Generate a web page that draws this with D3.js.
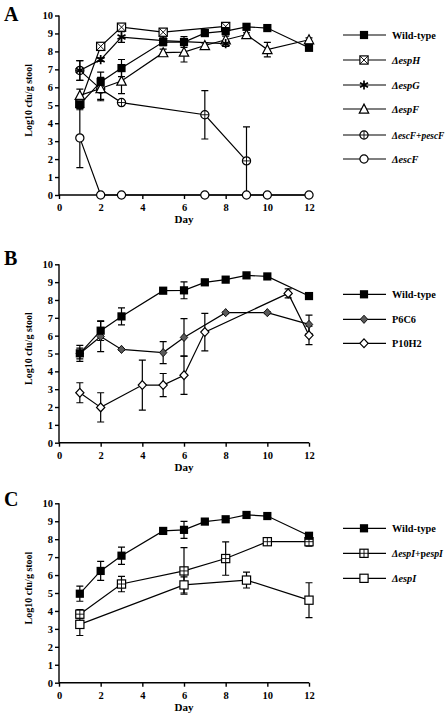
<!DOCTYPE html>
<html><head><meta charset="utf-8">
<script src="https://cdn.jsdelivr.net/npm/d3@7"></script>
<style>body{margin:0;background:#fff}svg{display:block}</style>
</head><body>
<script>
// ---------- DATA ----------
const xTicks = [0,2,4,6,8,10,12];
const yTicks = [0,1,2,3,4,5,6,7,8,9,10];

// Panel A
const aWtDays = [1,2,3,5,6,7,8,9,10,12];
const aWtVals = [5.05,6.3,7.07,8.52,8.52,9.02,9.13,9.37,9.3,8.2];
const aWtErr  = [0.3,0.55,0.48,0.2,0.3,0.1,0.15,0.1,0.1,0.12];
const aEspHDays = [1,2,3,5,8];
const aEspHVals = [5.1,8.28,9.35,9.07,9.39];
const aEspHErr  = [0,0.1,0.12,0.2,0.12];
const aEspGDays = [1,2,3,5,8];
const aEspGVals = [6.94,7.54,8.8,8.6,8.43];
const aEspGErr  = [0.55,0.1,0.3,0.15,0.15];
const aEspFDays = [1,2,3,5,6,7,8,9,10,12];
const aEspFVals = [5.55,5.93,6.35,7.93,7.96,8.33,8.65,8.94,8.1,8.65];
const aEspFErr  = [0.35,0.6,0.7,0.2,0.55,0.15,0.2,0.1,0.4,0.1];
const aEscFpDays = [1,2,3,7,9];
const aEscFpVals = [6.94,5.9,5.15,4.47,1.9];
const aEscFpErr  = [0.55,0.65,0.1,1.35,1.9];
const aEscFDays = [1,2,3,7,9,10,12];
const aEscFVals = [3.18,0,0,0,0,0,0];
const aEscFErr  = [1.65,0,0,0,0,0,0];

// Panel B
const bWtDays = [1,2,3,5,6,7,8,9,10,12];
const bWtVals = [5.01,6.28,7.08,8.52,8.54,8.99,9.14,9.38,9.32,8.22];
const bWtErr  = [0.45,0.55,0.48,0.05,0.47,0.08,0.08,0.05,0.05,0.08];
const bP6Days = [1,2,3,5,6,8,10,12];
const bP6Vals = [5.0,5.95,5.23,5.05,5.9,7.29,7.29,6.63];
const bP6Err  = [0.3,0.85,0.05,0.62,1.05,0.05,0.05,0.52];
const bP10Days = [1,2,4,5,6,7,11,12];
const bP10Vals = [2.8,1.98,3.23,3.23,3.78,6.2,8.37,6.02];
const bP10Err  = [0.56,0.82,1.4,0.65,1.07,1.05,0.25,0.52];

// Panel C
const cWtDays = [1,2,3,5,6,7,8,9,10,12];
const cWtVals = [4.96,6.23,7.08,8.46,8.52,8.98,9.11,9.35,9.29,8.19];
const cWtErr  = [0.42,0.53,0.48,0.05,0.47,0.1,0.08,0.05,0.05,0.1];
const cEspIpDays = [1,3,6,8,10,12];
const cEspIpVals = [3.82,5.5,6.23,6.92,7.86,7.86];
const cEspIpErr  = [0.25,0.43,1.3,0.93,0.05,0.25];
const cEspIDays = [1,6,9,12];
const cEspIVals = [3.25,5.45,5.72,4.6];
const cEspIErr  = [0.62,0.45,0.44,0.97];

// ---------- DRAW ----------
const W = 445, H = 717;
const svg = d3.select("body").append("svg").attr("width", W).attr("height", H);
const FONT = "'Liberation Serif','Times New Roman',serif";

function series(name, days, vals, errs, marker) {
  return {name, marker, pts: days.map((d,i)=>({d, v: vals[i], e: errs[i]}))};
}

function drawMarker(g, type, cx, cy) {
  const s = 4.1;
  const m = g.append("g").attr("transform", `translate(${cx},${cy})`);
  const st = (sel)=>sel.attr("stroke","#000").attr("stroke-width",1.2);
  switch (type) {
    case "fsquare":
      m.append("rect").attr("x",-s).attr("y",-s).attr("width",2*s).attr("height",2*s).attr("fill","#000"); break;
    case "osquare":
      st(m.append("rect").attr("x",-s).attr("y",-s).attr("width",2*s).attr("height",2*s).attr("fill","#fff")); break;
    case "xsquare":
      st(m.append("rect").attr("x",-s).attr("y",-s).attr("width",2*s).attr("height",2*s).attr("fill","#fff"));
      st(m.append("path").attr("d",`M${-s},${-s}L${s},${s}M${s},${-s}L${-s},${s}`)).attr("stroke-width",0.9); break;
    case "psquare":
      st(m.append("rect").attr("x",-s).attr("y",-s).attr("width",2*s).attr("height",2*s).attr("fill","#fff"));
      st(m.append("path").attr("d",`M0,${-s}L0,${s}M${-s},0L${s},0`)).attr("stroke-width",0.9); break;
    case "star": {
      const r = 4.6;
      st(m.append("path").attr("d",`M0,${-r}L0,${r}M${-r*0.87},${-r*0.5}L${r*0.87},${r*0.5}M${-r*0.87},${r*0.5}L${r*0.87},${-r*0.5}`)).attr("stroke-width",1.7);
      break; }
    case "otri":
      st(m.append("path").attr("d",`M0,${-s-0.8}L${s+0.6},${s}L${-s-0.6},${s}Z`).attr("fill","#fff")); break;
    case "ocircle":
      st(m.append("circle").attr("r",s).attr("fill","#fff")); break;
    case "pcircle":
      st(m.append("circle").attr("r",s).attr("fill","#fff"));
      st(m.append("path").attr("d",`M0,${-s}L0,${s}M${-s},0L${s},0`)).attr("stroke-width",0.9); break;
    case "gdiamond":
      m.append("path").attr("d",`M0,${-s}L${s-0.4},0L0,${s}L${-s+0.4},0Z`).attr("fill","#5a5a5a").attr("stroke","#111").attr("stroke-width",1); break;
    case "odiamond":
      st(m.append("path").attr("d",`M0,${-s-0.3}L${s},0L0,${s+0.3}L${-s},0Z`).attr("fill","#fff")); break;
  }
}

function panel(cfg) {
  const x = d3.scaleLinear().domain([0,12]).range([59,309]);
  const y = d3.scaleLinear().domain([0,10]).range([cfg.y0, cfg.y10]);
  const g = svg.append("g");

  const yAx = g.append("g").attr("transform","translate(59,0)")
    .call(d3.axisLeft(y).tickValues(yTicks).tickSize(4).tickPadding(2).tickFormat(d3.format("d")));
  const xAx = g.append("g").attr("transform",`translate(0,${cfg.y0})`)
    .call(d3.axisBottom(x).tickValues(xTicks).tickSize(4).tickPadding(5).tickFormat(d3.format("d")));
  [yAx,xAx].forEach(a=>{
    a.select(".domain").attr("stroke","#000").attr("stroke-width",1.4);
    a.selectAll(".tick line").attr("stroke","#000").attr("stroke-width",1.4);
    a.selectAll("text").attr("font-family",FONT).attr("font-weight","bold").attr("font-size",10.5).attr("fill","#000");
  });
  yAx.select(".domain").attr("d",`M0,${cfg.y0}V${cfg.y10}`);
  xAx.select(".domain").attr("d",`M59,0H309`);

  g.append("text").attr("x",184).attr("y",cfg.y0+28).attr("text-anchor","middle")
    .attr("font-family",FONT).attr("font-weight","bold").attr("font-size",11).text("Day");
  g.append("text").attr("transform",`translate(32,${(cfg.y0+cfg.y10)/2-5}) rotate(-90)`)
    .attr("text-anchor","middle").attr("font-family",FONT).attr("font-weight","bold").attr("font-size",10)
    .text("Log10 cfu/g stool");
  g.append("text").attr("x",4).attr("y",cfg.letterY).attr("font-family",FONT).attr("font-weight","bold")
    .attr("font-size",20).text(cfg.letter);

  const line = d3.line().x(p=>x(p.d)).y(p=>y(p.v));
  const drawOrder = cfg.series.slice().reverse();
  drawOrder.forEach(s=>{
    g.append("path").attr("d",line(s.pts)).attr("fill","none").attr("stroke","#000").attr("stroke-width",1.2);
  });
  drawOrder.forEach(s=>{
    s.pts.filter(p=>p.e>0).forEach(p=>{
      const lo = Math.max(0,p.v-p.e), hi = p.v+p.e;
      const cx = x(p.d);
      g.append("path").attr("d",`M${cx},${y(lo)}V${y(hi)}M${cx-3.5},${y(hi)}H${cx+3.5}` + (lo>0?`M${cx-3.5},${y(lo)}H${cx+3.5}`:""))
        .attr("stroke","#000").attr("stroke-width",1.2).attr("fill","none");
    });
  });
  drawOrder.forEach(s=>{
    s.pts.forEach(p=>drawMarker(g, s.marker, x(p.d), y(p.v)));
  });

  cfg.series.forEach((s,i)=>{
    const ly = cfg.legY[i];
    g.append("line").attr("x1",343).attr("x2",386).attr("y1",ly).attr("y2",ly).attr("stroke","#000").attr("stroke-width",1.2);
    drawMarker(g, s.marker, 364, ly);
    const t = g.append("text").attr("x",392).attr("y",ly+3.5).attr("font-family",FONT).attr("font-weight","bold")
      .attr("font-size", s.fs || 10.3);
    s.name.forEach(part=>{
      t.append("tspan").attr("font-style",part[1]?"italic":"normal").text(part[0]);
    });
  });
}

const escFp = series([["ΔescF+pescF",1]], aEscFpDays, aEscFpVals, aEscFpErr, "pcircle");
escFp.fs = 9.4;

panel({
  letter:"A", letterY:21, y0:195, y10:15.5,
  legY:[35,60,85,109,135,159],
  series:[
    series([["Wild-type",0]], aWtDays, aWtVals, aWtErr, "fsquare"),
    series([["ΔespH",1]], aEspHDays, aEspHVals, aEspHErr, "xsquare"),
    series([["ΔespG",1]], aEspGDays, aEspGVals, aEspGErr, "star"),
    series([["ΔespF",1]], aEspFDays, aEspFVals, aEspFErr, "otri"),
    escFp,
    series([["ΔescF",1]], aEscFDays, aEscFVals, aEscFErr, "ocircle")
  ]
});

panel({
  letter:"B", letterY:265, y0:442.7, y10:264.3,
  legY:[294.3,319.3,343.3],
  series:[
    series([["Wild-type",0]], bWtDays, bWtVals, bWtErr, "fsquare"),
    series([["P6C6",0]], bP6Days, bP6Vals, bP6Err, "gdiamond"),
    series([["P10H2",0]], bP10Days, bP10Vals, bP10Err, "odiamond")
  ]
});

const espIp = series([["ΔespI",1],["+p",0],["espI",1]], cEspIpDays, cEspIpVals, cEspIpErr, "psquare");
espIp.fs = 9.8;
panel({
  letter:"C", letterY:506, y0:682.7, y10:503.3,
  legY:[528.3,553.3,578.3],
  series:[
    series([["Wild-type",0]], cWtDays, cWtVals, cWtErr, "fsquare"),
    espIp,
    series([["ΔespI",1]], cEspIDays, cEspIVals, cEspIErr, "osquare")
  ]
});
</script>
</body></html>
